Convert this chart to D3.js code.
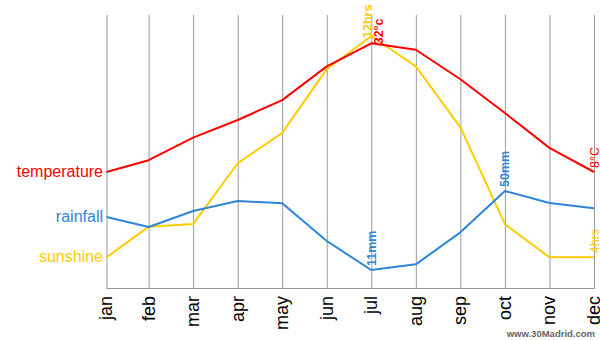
<!DOCTYPE html>
<html><head><meta charset="utf-8">
<script src="https://cdn.jsdelivr.net/npm/d3@7"></script>
<style>body{margin:0;background:#fff}svg{display:block}</style>
</head><body><svg id="c" width="600" height="340"></svg>
<script>
const months = ["jan","feb","mar","apr","may","jun","jul","aug","sep","oct","nov","dec"];
const temperature = [8, 10.2, 14.4, 17.7, 21.4, 27.7, 32, 30.8, 25.3, 19, 12.5, 8];
const rainfall = [37.2, 32.2, 40.1, 45.1, 43.9, 25.3, 11, 13.8, 29.6, 50, 44.1, 41.5];
const sunshine = [4, 5.1, 5.2, 7.4, 8.5, 10.8, 12, 10.9, 8.7, 5.2, 4, 4];
const seriesNames = ["temperature", "rainfall", "sunshine"];
const annotationText = ["32°c", "8°C", "11mm", "50mm", "12hrs", "4hrs"];
const annotationSeries = ["temperature", "temperature", "rainfall", "rainfall", "sunshine", "sunshine"];
const annotationMonth = ["jul", "dec", "jul", "oct", "jul", "dec"];
const watermark = "www.30Madrid.com";

const FONT = "'Liberation Sans', Arial, Helvetica, sans-serif";
const colors = {temperature: "#ff0000", rainfall: "#2f86d8", sunshine: "#ffcc00"};
const values = {temperature, rainfall, sunshine};

const svg = d3.select("#c");
const plotTop = 15, plotBottom = 288;

const x = d3.scaleLinear().domain([0, 1, 11]).range([106.5, 148.6, 594]);
const yScales = {
  temperature: d3.scaleLinear().domain([8, 32]).range([172, 43.3]),
  rainfall: d3.scaleLinear().domain([11, 50]).range([270, 191]),
  sunshine: d3.scaleLinear().domain([4, 12]).range([257.3, 36])
};

// grid
svg.append("g").selectAll("line").data(months).join("line")
  .attr("x1", (d, i) => x(i) + 0.5).attr("x2", (d, i) => x(i) + 0.5)
  .attr("y1", plotTop).attr("y2", plotBottom)
  .attr("stroke", "#9a9a9a").attr("stroke-width", 1);
svg.append("line")
  .attr("x1", x(0)).attr("x2", x(11) + 1)
  .attr("y1", plotBottom + 0.5).attr("y2", plotBottom + 0.5)
  .attr("stroke", "#9a9a9a");

// month labels
svg.append("g").selectAll("text").data(months).join("text")
  .attr("transform", (d, i) => `translate(${x(i) + 0.5},${plotBottom + 8}) rotate(-90)`)
  .attr("text-anchor", "end").attr("dy", "0.3em")
  .attr("font-family", FONT).attr("font-size", 18).attr("fill", "#000")
  .text(d => d);

// lines
const drawOrder = ["sunshine", "rainfall", "temperature"];
drawOrder.forEach(name => {
  const y = yScales[name];
  const line = d3.line().x((d, i) => x(i)).y(d => y(d));
  svg.append("path").datum(values[name])
    .attr("d", line).attr("fill", "none")
    .attr("stroke", colors[name]).attr("stroke-width", 2)
    .attr("stroke-linejoin", "round");
});

// series labels at left
svg.append("g").selectAll("text").data(seriesNames).join("text")
  .attr("x", x(0) - 3.5)
  .attr("y", d => yScales[d](values[d][0]))
  .attr("dy", "0.32em").attr("text-anchor", "end")
  .attr("font-family", FONT).attr("font-size", 16)
  .attr("fill", d => colors[d]).text(d => d);

// annotations
const annOffset = {"12hrs": [-4, 4], "32°c": [6.5, 3]};
const ann = annotationText.map((t, k) => ({text: t, series: annotationSeries[k], m: months.indexOf(annotationMonth[k])}));
svg.append("g").selectAll("text").data(ann).join("text")
  .attr("transform", d => {
    const o = annOffset[d.text] || [-0.5, -2];
    const px = x(d.m) + 0.5 + o[0];
    const py = yScales[d.series](values[d.series][d.m]) + o[1] - 2;
    return `translate(${px},${py}) rotate(-90)`;
  })
  .attr("dy", "0.36em").attr("text-anchor", "start")
  .attr("font-family", FONT)
  .attr("font-size", 12.5)
  .attr("font-weight", d => d.m === 11 ? "normal" : "bold")
  .attr("fill", d => colors[d.series]).text(d => d.text);

// watermark
svg.append("text").attr("x", x(11) + 1).attr("y", 337)
  .attr("text-anchor", "end").attr("font-family", FONT)
  .attr("font-size", 9.5).attr("font-weight", "bold").attr("fill", "#666")
  .text(watermark);
</script></body></html>
